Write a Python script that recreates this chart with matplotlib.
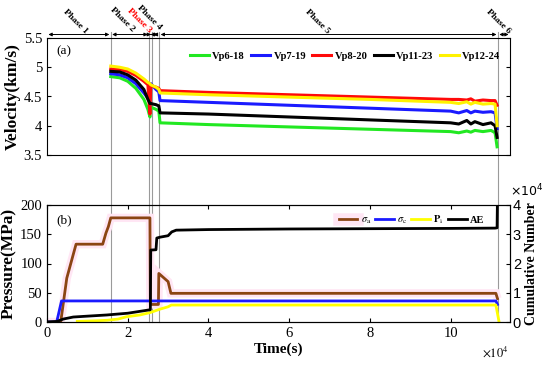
import matplotlib
matplotlib.use('Agg')
import matplotlib.pyplot as plt
from matplotlib.lines import Line2D

plt.rcParams['font.family'] = 'Liberation Serif'
plt.rcParams['mathtext.fontset'] = 'stix'

# tempos (x 1e4 s) e velocidades (a)
t_vp = [1.58, 1.8, 2.0, 2.2, 2.4, 2.5, 2.55, 2.57, 2.7, 2.77, 2.8, 4, 6, 8, 10,
        10.2, 10.4, 10.5, 10.6, 10.8, 11.0, 11.1, 11.15]
vp6_18 = [4.84, 4.82, 4.76, 4.64, 4.45, 4.28, 4.15, 4.32, 4.28, 4.25, 4.05, 4.02, 3.98, 3.94, 3.90,
          3.88, 3.91, 3.89, 3.92, 3.90, 3.92, 3.88, 3.64]
vp7_19 = [4.89, 4.87, 4.82, 4.72, 4.56, 4.47, 4.42, 4.72, 4.62, 4.58, 4.43, 4.40, 4.35, 4.30, 4.25,
          4.22, 4.26, 4.22, 4.25, 4.23, 4.24, 4.22, 3.95]
vp8_20 = [4.97, 4.96, 4.93, 4.86, 4.76, 4.70, 4.20, 4.68, 4.66, 4.64, 4.60, 4.57, 4.53, 4.49, 4.45,
          4.45, 4.44, 4.46, 4.42, 4.44, 4.43, 4.43, 4.35]
vp11_23 = [4.93, 4.92, 4.87, 4.78, 4.62, 4.45, 4.38, 4.38, 4.36, 4.34, 4.22, 4.20, 4.15, 4.10, 4.05,
           4.03, 4.09, 4.03, 4.07, 4.02, 4.05, 4.00, 3.80]
vp12_24 = [5.02, 5.00, 4.97, 4.90, 4.80, 4.74, 4.72, 4.70, 4.66, 4.62, 4.56, 4.53, 4.49, 4.45, 4.40,
           4.38, 4.41, 4.37, 4.40, 4.37, 4.38, 4.37, 4.00]

# grafico (b): pressoes (MPa) e AE acumulado
t_sa = [0, 0.34, 0.49, 0.72, 1.38, 1.46, 1.52, 1.58, 2.55, 2.56, 2.76, 2.77, 3.0, 3.07, 11.12, 11.16]
sigma_a = [0, 0, 75, 133, 133, 152, 163, 178, 178, 30, 30, 83, 69, 49, 49, 40]
t_sc = [0, 0.24, 0.36, 11.12, 11.16]
sigma_c = [0, 0, 36, 36, 30]
t_pi = [0.75, 1.2, 1.5, 1.76, 1.97, 2.3, 2.55, 2.8, 3.0, 3.08, 11.12, 11.2]
p_i = [1, 2, 3, 5, 9, 12, 16, 22, 26, 29, 29, 0]
t_ae = [0, 0.25, 0.4, 0.65, 1.0, 1.48, 2.0, 2.47, 2.56, 2.57, 2.7, 2.72, 2.8, 3.0, 3.09, 3.2, 4, 6, 8,
        10, 11.1, 11.15, 11.16]
ae = [0, 0.02, 0.1, 0.17, 0.2, 0.24, 0.3, 0.4, 0.42, 2.46, 2.47, 2.87, 2.9, 2.95, 3.08, 3.14, 3.16,
      3.18, 3.19, 3.2, 3.21, 3.22, 4.3]

# limites das fases (x 1e4 s)
fases_lim = [0, 1.58, 2.53, 2.61, 2.78, 11.17, 11.47]
fases_nome = ['Phase 1', 'Phase 2', 'Phase 3', 'Phase 4', 'Phase 5', 'Phase 6']
fases_cor = ['black', 'black', 'red', 'black', 'black', 'black']
xmax = 11.47

fig = plt.figure(figsize=(5.5, 3.65), dpi=100)
W, H = 550, 365
esq, dir_ = 47 / W, 510 / W
ax1 = fig.add_axes([esq, 1 - 155 / H, dir_ - esq, 117 / H])
ax2 = fig.add_axes([esq, 1 - 322 / H, dir_ - esq, 117 / H])
ov = fig.add_axes([esq, 0, dir_ - esq, 1])
ov.set_zorder(0)
ax1.set_zorder(1)
ax2.set_zorder(1)
for a in (ax1, ax2):
    a.patch.set_alpha(0)

# linhas verticais das fases e setas
ov.set_xlim(0, xmax)
ov.set_ylim(H, 0)
ov.axis('off')
for x in fases_lim[1:-1]:
    ov.plot([x, x], [32, 322], color='#9a9a9a', lw=0.8)
for i in range(len(fases_nome)):
    x0, x1 = fases_lim[i], fases_lim[i + 1]
    ov.annotate('', xy=(x0, 34.5), xytext=(x1, 34.5),
                arrowprops=dict(arrowstyle='<|-|>', lw=0.7, color='black',
                                mutation_scale=5, shrinkA=1, shrinkB=1))
pos_txt = [(0.9, 35), (2.06, 33), (2.5, 34), (2.74, 31), (6.9, 35), (11.38, 35)]
for i in range(len(fases_nome)):
    ov.text(pos_txt[i][0], pos_txt[i][1], fases_nome[i], rotation=-45, rotation_mode='anchor',
            ha='right', va='bottom', fontsize=6.8, fontweight='bold', color=fases_cor[i])

# (a) velocidades
cores_vp = ['#22e822', '#1a1aff', '#ff0a0a', 'black', '#fff200']
nomes_vp = ['Vp6-18', 'Vp7-19', 'Vp8-20', 'Vp11-23', 'Vp12-24']
t_vp_s = [t * 1e4 for t in t_vp]
for serie, cor, nome in zip([vp6_18, vp7_19, vp8_20, vp11_23, vp12_24], cores_vp, nomes_vp):
    ax1.plot(t_vp_s, serie, color=cor, lw=2.2, label=nome)
ax1.set_xlim(0, xmax * 1e4)
ax1.set_ylim(3.5, 5.5)
ax1.set_yticks([3.5, 4, 4.5, 5, 5.5])
ax1.set_yticklabels(['3.5', '4', '4.5', '5', '5.5'])
ax1.set_xticks([])
ax1.tick_params(axis='y', direction='in', right=True, labelsize=10.5, length=3)
ax1.set_ylabel('Velocity(km/s)', fontsize=12.5, fontweight='bold', labelpad=2)
ax1.text(0.02, 0.86, '(a)', transform=ax1.transAxes, fontsize=9.5)
leg1 = ax1.legend(ncol=5, frameon=False, loc='center right', bbox_to_anchor=(500 / W, 1 - 56 / H),
                  bbox_transform=fig.transFigure, prop={'weight': 'bold', 'size': 7.6},
                  handlelength=1.8, handletextpad=0.3, columnspacing=0.6, borderpad=0, borderaxespad=0)
for l in leg1.get_lines():
    l.set_linewidth(2.2)

# (b) pressoes
ax2.plot([t * 1e4 for t in t_sa], sigma_a, color='#ffe6f4', lw=6, solid_capstyle='butt',
         solid_joinstyle='miter')
ax2.plot([t * 1e4 for t in t_sa], sigma_a, color='#8b4513', lw=2)
ax2.plot([t * 1e4 for t in t_sc], sigma_c, color='#1a1aff', lw=2)
ax2.plot([t * 1e4 for t in t_pi], p_i, color='#ffff00', lw=2)
ax2.set_xlim(0, xmax * 1e4)
ax2.set_ylim(0, 200)
ax2.set_yticks([0, 50, 100, 150, 200])
ax2.set_xticks([0, 2e4, 4e4, 6e4, 8e4, 10e4])
ax2.set_xticklabels(['0', '2', '4', '6', '8', '10'])
ax2.tick_params(direction='in', top=True, labelsize=10.5, length=3)
ax2.set_ylabel('Pressure(MPa)', fontsize=12.5, fontweight='bold', labelpad=2)
ax2.set_xlabel('Time(s)', fontsize=11, fontweight='bold', labelpad=2)
ax2.text(0.02, 0.84, '(b)', transform=ax2.transAxes, fontsize=9.5)
fig.text(495 / W, 1 - 352 / H, r'$\times10^4$', fontsize=9, ha='center', va='center')

ax2r = ax2.twinx()
ax2r.set_zorder(2)
ax2r.patch.set_alpha(0)
ax2r.plot([t * 1e4 for t in t_ae], [v * 1e4 for v in ae], color='black', lw=2)
ax2r.set_ylim(0, 4e4)
ax2r.set_yticks([0, 1e4, 2e4, 3e4, 4e4])
ax2r.set_yticklabels(['0', '1', '2', '3', '4'], family='Liberation Sans')
ax2r.tick_params(direction='in', labelsize=10.5, length=3, pad=2)
ax2r.set_ylabel('Cumulative Number', fontsize=10, fontweight='bold', labelpad=3)
fig.text(527 / W, 1 - 191 / H, r'$\times10^4$', fontsize=9, ha='center', va='center',
         family='Liberation Sans', math_fontfamily='dejavusans')

h_sa = (Line2D([], [], color='#ffe6f4', lw=9), Line2D([], [], color='#8b4513', lw=2))
h_sc = Line2D([], [], color='#1a1aff', lw=2)
h_pi = Line2D([], [], color='#ffff00', lw=2)
h_ae = Line2D([], [], color='black', lw=2)
ax2r.legend([h_sa, h_sc, h_pi, h_ae], [r'$\sigma_\mathrm{a}$', r'$\sigma_\mathrm{c}$', r'$\mathbf{P}_\mathrm{i}$', 'AE'],
            ncol=4, frameon=False, loc='center right', bbox_to_anchor=(484 / W, 1 - 220 / H),
            bbox_transform=fig.transFigure, prop={'weight': 'bold', 'size': 7.5},
            handlelength=1.8, handletextpad=0.3, columnspacing=0.4, borderpad=0, borderaxespad=0)

fig.savefig('out.png', dpi=100)
